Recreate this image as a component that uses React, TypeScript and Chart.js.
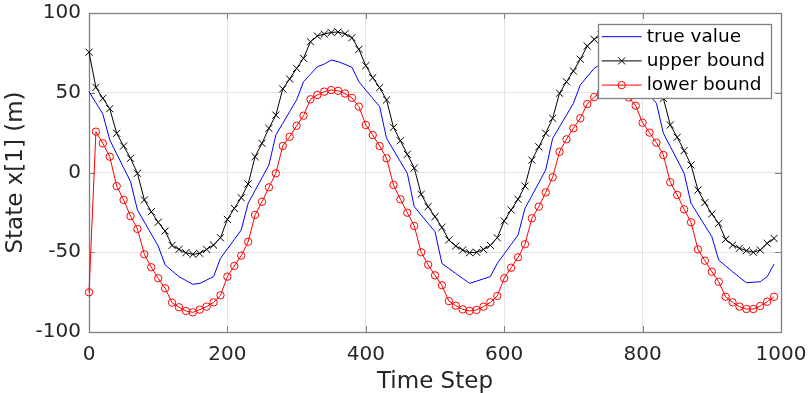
import React, { useEffect, useRef } from "react";
import { Chart, registerables } from "chart.js";

Chart.register(...registerables);

const steps = [
  0, 10, 20, 30, 40, 50, 60, 70, 80, 90, 100, 110, 120, 130, 140, 150, 160, 170, 180, 190,
  200, 210, 220, 230, 240, 250, 260, 270, 280, 290, 300, 310, 320, 330, 340, 350, 360, 370, 380, 390,
  400, 410, 420, 430, 440, 450, 460, 470, 480, 490, 500, 510, 520, 530, 540, 550, 560, 570, 580, 590,
  600, 610, 620, 630, 640, 650, 660, 670, 680, 690, 700, 710, 720, 730, 740, 750, 760, 770, 780, 790,
  800, 810, 820, 830, 840, 850, 860, 870, 880, 890, 900, 910, 920, 930, 940, 950, 960, 970, 980, 990,
];

const trueValue = [
  50.7, 43.7, 36.7, 20.4, 11.7, 3.0, -5.7, -23.5, -31.0, -38.6,
  -46.1, -58.0, -61.6, -65.3, -67.7, -70.1, -69.5, -67.4, -65.3, -53.8,
  -47.9, -42.0, -36.0, -19.3, -11.3, -3.3, 4.7, 23.5, 30.8, 38.2,
  45.5, 56.9, 61.6, 66.3, 68.0, 70.5, 69.5, 67.8, 66.0, 56.9,
  51.7, 46.5, 41.3, 21.4, 14.1, 6.8, -0.5, -21.4, -26.6, -31.9,
  -37.1, -57.0, -60.2, -63.3, -66.4, -69.5, -68.1, -66.7, -65.3, -57.0,
  -51.0, -45.1, -39.2, -22.5, -14.5, -6.5, 1.6, 21.4, 28.7, 36.0,
  43.4, 54.9, 60.1, 65.3, 68.0, 70.3, 69.5, 67.8, 66.0, 57.0,
  52.0, 48.5, 43.4, 24.6, 16.3, 8.0, -0.5, -19.3, -26.3, -33.3,
  -40.2, -54.9, -58.6, -62.2, -65.7, -69.1, -68.8, -68.5, -65.3, -57.4,
];

const upperBound = [
  75.4, 53.4, 46.5, 40.0, 24.6, 16.6, 8.9, -0.5, -17.2, -24.6,
  -31.2, -36.7, -45.7, -48.2, -50.3, -51.3, -50.7, -48.2, -45.5, -40.9,
  -29.4, -22.5, -15.8, -7.2, 9.9, 18.3, 27.7, 36.0, 52.4, 58.6,
  65.3, 71.6, 82.0, 85.6, 86.8, 87.8, 88.1, 87.0, 84.5, 77.2,
  67.0, 59.4, 53.2, 45.5, 28.3, 19.9, 11.4, 2.8, -13.7, -21.4,
  -27.7, -34.4, -42.3, -46.1, -48.6, -50.3, -50.0, -48.2, -45.7, -40.9,
  -30.4, -23.5, -16.8, -8.5, 7.8, 16.1, 24.6, 34.0, 49.7, 56.9,
  63.6, 71.0, 79.3, 83.5, 86.5, 87.8, 88.1, 87.0, 84.5, 77.5,
  67.5, 59.5, 53.5, 46.5, 29.8, 22.1, 13.7, 4.7, -11.0, -18.9,
  -26.0, -31.9, -41.9, -45.5, -47.5, -49.0, -50.0, -48.6, -44.4, -41.3,
];

const lowerBound = [
  -75.1, 25.6, 18.3, 9.9, -8.5, -17.2, -27.3, -35.4, -51.3, -59.4,
  -66.3, -72.6, -81.6, -84.5, -86.8, -87.7, -86.0, -84.1, -81.4, -77.0,
  -65.3, -58.6, -52.1, -43.4, -26.6, -18.3, -9.3, -0.5, 16.6, 22.4,
  29.3, 35.6, 45.9, 48.6, 50.7, 51.7, 51.2, 49.5, 46.8, 41.3,
  29.8, 23.5, 16.6, 8.9, -7.8, -16.8, -25.2, -33.5, -50.0, -57.8,
  -64.5, -70.7, -80.6, -83.5, -85.8, -86.8, -86.2, -84.1, -81.4, -77.4,
  -66.3, -59.7, -53.2, -45.0, -28.7, -21.4, -12.5, -3.0, 13.0, 20.8,
  27.7, 34.0, 42.9, 47.3, 50.0, 51.5, 51.2, 49.5, 47.0, 41.9,
  31.2, 25.0, 18.7, 11.0, -6.1, -14.1, -23.1, -31.2, -48.2, -55.3,
  -62.2, -68.5, -77.9, -81.4, -84.1, -85.6, -85.6, -83.7, -81.0, -77.9,
];

const xTicksStep = 200;
const yTicksStep = 50;

const FONT = '"DejaVu Sans", sans-serif';
const TEXT = "#262626";
const AXIS = "#808080";
const GRID = "#e3e3e3";
const TICK_LEN = 6;

const matlabAxes = {
  id: "matlabAxes",
  beforeDatasetsDraw(chart: any) {
    const { ctx, chartArea } = chart;
    const { left, right, top, bottom } = chartArea;
    const xs = chart.scales.x;
    const ys = chart.scales.y;
    ctx.save();
    ctx.strokeStyle = AXIS;
    ctx.lineWidth = 1;
    ctx.beginPath();
    xs.ticks.forEach((t: any) => {
      const px = Math.round(xs.getPixelForValue(t.value)) + 0.5;
      ctx.moveTo(px, bottom);
      ctx.lineTo(px, bottom - TICK_LEN);
      ctx.moveTo(px, top);
      ctx.lineTo(px, top + TICK_LEN);
    });
    ys.ticks.forEach((t: any) => {
      const py = Math.round(ys.getPixelForValue(t.value)) + 0.5;
      ctx.moveTo(left, py);
      ctx.lineTo(left + TICK_LEN, py);
      ctx.moveTo(right, py);
      ctx.lineTo(right - TICK_LEN, py);
    });
    ctx.stroke();
    ctx.lineWidth = 1.3;
    ctx.strokeRect(Math.round(left) + 0.5, Math.round(top) + 0.5, Math.round(right - left), Math.round(bottom - top));
    ctx.restore();
  },
  afterDraw(chart: any) {
    const { ctx, chartArea } = chart;
    const datasets = chart.data.datasets;
    ctx.save();
    ctx.font = `18.5px ${FONT}`;
    const textW = Math.max(...datasets.map((d: any) => ctx.measureText(d.label).width));
    const padL = 3.5;
    const lineLen = 40;
    const gap = 5;
    const padR = 6;
    const rowH = 24.2;
    const boxW = padL + lineLen + gap + textW + padR;
    const boxH = datasets.length * rowH + 1.7;
    const bx = chartArea.right - 10 - boxW;
    const by = chartArea.top + 11;
    ctx.fillStyle = "#ffffff";
    ctx.fillRect(bx, by, boxW, boxH);
    ctx.strokeStyle = AXIS;
    ctx.lineWidth = 1.3;
    ctx.strokeRect(Math.round(bx) + 0.5, Math.round(by) + 0.5, Math.round(boxW), Math.round(boxH));
    datasets.forEach((d: any, i: number) => {
      const cy = by + 12.7 + i * rowH;
      const x0 = bx + padL;
      ctx.strokeStyle = d.borderColor;
      ctx.lineWidth = d.borderWidth;
      ctx.beginPath();
      ctx.moveTo(x0, cy);
      ctx.lineTo(x0 + lineLen, cy);
      ctx.stroke();
      const mx = x0 + lineLen / 2;
      if (d.pointRadius > 0) {
        ctx.beginPath();
        if (d.pointStyle === "circle") {
          ctx.arc(mx, cy, d.pointRadius, 0, Math.PI * 2);
        } else if (d.pointStyle === "crossRot") {
          const o = d.pointRadius * Math.SQRT1_2;
          ctx.moveTo(mx - o, cy - o);
          ctx.lineTo(mx + o, cy + o);
          ctx.moveTo(mx + o, cy - o);
          ctx.lineTo(mx - o, cy + o);
        }
        ctx.stroke();
      }
      ctx.fillStyle = "#000000";
      ctx.textAlign = "left";
      ctx.textBaseline = "middle";
      ctx.fillText(d.label, x0 + lineLen + gap, cy + 0.5);
    });
    ctx.restore();
  },
};

export default function App() {
  const canvasRef = useRef<HTMLCanvasElement | null>(null);

  useEffect(() => {
    if (!canvasRef.current) return;
    const toPoints = (vals: number[]) => steps.map((s, i) => ({ x: s, y: vals[i] }));
    const chart = new Chart(canvasRef.current, {
      type: "line",
      data: {
        datasets: [
          {
            label: "true value",
            data: toPoints(trueValue),
            borderColor: "#0000ff",
            borderWidth: 1,
            pointRadius: 0,
            tension: 0,
            fill: false,
            clip: false,
          } as any,
          {
            label: "upper bound",
            data: toPoints(upperBound),
            borderColor: "#000000",
            borderWidth: 1,
            pointStyle: "crossRot",
            pointRadius: 5,
            pointBorderColor: "#000000",
            pointBorderWidth: 1,
            tension: 0,
            fill: false,
            clip: false,
          } as any,
          {
            label: "lower bound",
            data: toPoints(lowerBound),
            borderColor: "#ff0000",
            borderWidth: 1,
            pointStyle: "circle",
            pointRadius: 3.7,
            pointBorderColor: "#ff0000",
            pointBackgroundColor: "rgba(0,0,0,0)",
            pointBorderWidth: 1,
            tension: 0,
            fill: false,
            clip: false,
          } as any,
        ],
      },
      options: {
        animation: false,
        responsive: false,
        events: [],
        layout: { padding: { top: 13, right: 29, left: 0, bottom: 0 } },
        plugins: { legend: { display: false }, tooltip: { enabled: false } },
        scales: {
          x: {
            type: "linear",
            min: 0,
            max: 1000,
            ticks: {
              stepSize: xTicksStep,
              padding: 11,
              color: TEXT,
              font: { family: FONT, size: 20 },
              maxRotation: 0,
              callback: (v: any) => String(v),
            },
            grid: { color: GRID, drawTicks: false, lineWidth: 1 },
            border: { display: false },
            title: { display: true, text: "Time Step", color: TEXT, font: { family: FONT, size: 23 }, padding: { top: 0, bottom: -3 } },
            afterFit: (s: any) => {
              s.height = 61;
              s.paddingLeft = 0;
              s.paddingRight = 0;
              s.paddingTop = 0;
              s.paddingBottom = 0;
            },
          },
          y: {
            type: "linear",
            min: -100,
            max: 100,
            ticks: {
              stepSize: yTicksStep,
              padding: 8,
              color: TEXT,
              font: { family: FONT, size: 20 },
              callback: (v: any) => String(v),
            },
            grid: { color: GRID, drawTicks: false, lineWidth: 1 },
            border: { display: false },
            title: { display: true, text: "State x[1] (m)", color: TEXT, font: { family: FONT, size: 23 }, padding: { top: 2, bottom: 0 } },
            afterFit: (s: any) => {
              s.width = 89;
              s.paddingLeft = 0;
              s.paddingRight = 0;
              s.paddingTop = 0;
              s.paddingBottom = 0;
            },
          },
        },
      } as any,
      plugins: [matlabAxes],
    });
    return () => chart.destroy();
  }, []);

  return (
    <div style={{ position: "absolute", left: 0, top: 0, width: 810, height: 393, background: "#ffffff" }}>
      <canvas ref={canvasRef} width={810} height={393} style={{ display: "block" }} />
    </div>
  );
}
